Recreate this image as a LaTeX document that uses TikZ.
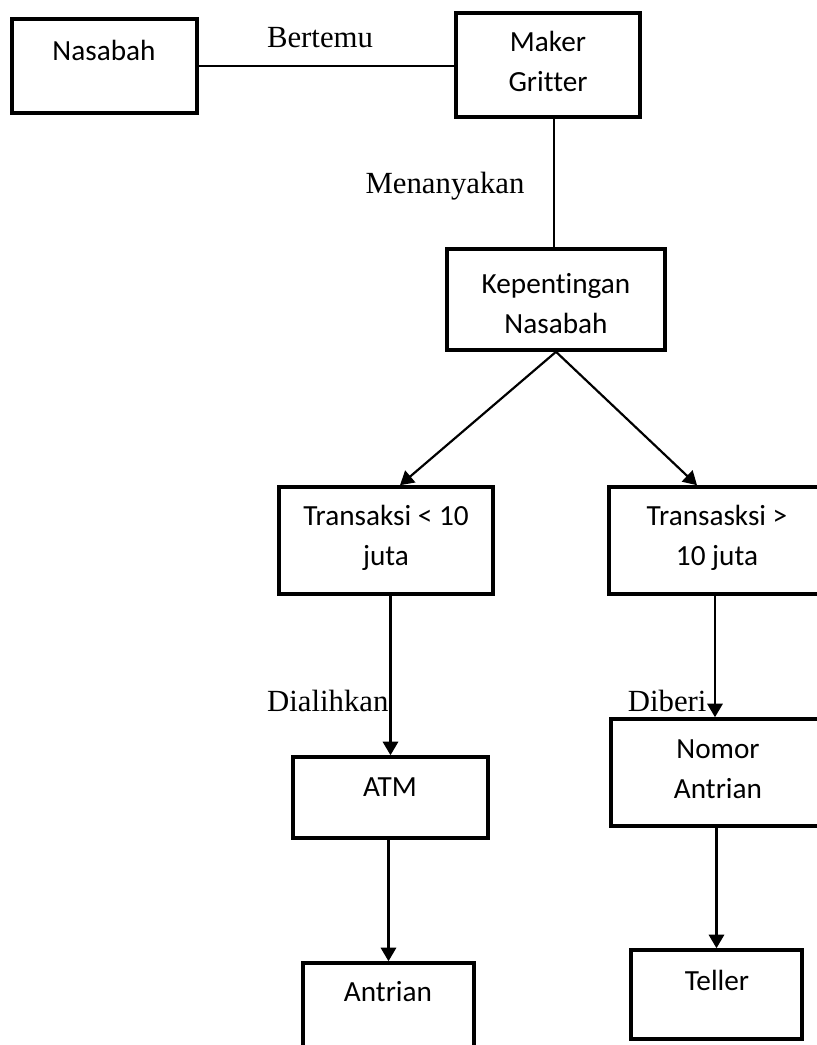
\documentclass[tikz,border=0pt]{standalone}
\usepackage{fontspec}
\setmainfont{Liberation Serif}
\newfontfamily\boxfont[Ligatures=NoCommon,RawFeature={-liga;-clig;-calt}]{Carlito}
\usetikzlibrary{arrows.meta,fit,calc}
\begin{document}
\begin{tikzpicture}[x=0.39pt,y=-0.39pt,
  box/.style={draw, line width=1.4pt, inner sep=0pt, line join=miter},
  txt/.style={font=\boxfont\fontsize{11.4}{15.6}\selectfont, align=center, anchor=north, inner sep=0pt},
  lab/.style={font=\fontsize{12}{14}\selectfont, inner sep=0pt},
  thinline/.style={line width=0.55pt},
  arr/.style={line width=0.85pt, -{Triangle[length=5.3pt,width=6pt]}}]
\useasboundingbox (0,0) rectangle (817,1045);
\clip (0,0) rectangle (817,1045);
% boxes
\node[box, fit={(12,19) (197,113)}] (nas) {};
\node[txt] (nasT) at (104,32) {\strut Nasabah};
\node[box, fit={(456,13) (640,117)}] (maker) {};
\node[txt] (makerT) at (548,23) {\strut Maker\\\strut Gritter};
\node[box, fit={(447,249) (665,350)}] (kep) {};
\node[txt] (kepT) at (556,265) {\strut Kepentingan\\\strut Nasabah};
\node[box, fit={(279,487) (493,594)}] (t1) {};
\node[txt] (t1T) at (386,497) {\strut Transaksi < 10\\\strut juta};
\node[box, fit={(609,487) (825,594)}] (t2) {};
\node[txt] (t2T) at (717,497) {\strut Transasksi >\\\strut 10 juta};
\node[box, fit={(611,719) (825,826)}] (nomor) {};
\node[txt] (nomorT) at (718,730) {\strut Nomor\\\strut Antrian};
\node[box, fit={(293,757) (488,838)}] (atm) {};
\node[txt] (atmT) at (390,768) {\strut ATM};
\node[box, fit={(303,963) (474,1080)}] (antrian) {};
\node[txt] (antrianT) at (388,973) {\strut Antrian};
\node[box, fit={(631,950) (802,1039)}] (teller) {};
\node[txt] (tellerT) at (717,962) {\strut Teller};
% connectors
\draw[thinline] (nas.east) -- (nas.east -| maker.west);
\draw[thinline] ($(maker.south)+(6,0)$) -- ($(kep.north)+(-2,0)$);
\draw[arr] (kep.south) -- ($(t1.north)+(14,0)$);
\draw[arr] (kep.south) -- ($(t2.north)+(-20,0)$);
\draw[arr] (atm.north |- t1.south) -- (atm.north);
\draw[arr] ($(t2.south)+(-2,0)$) coordinate (t2s) -- (t2s |- nomor.north);
\draw[arr] (antrian.north |- atm.south) -- (antrian.north);
\draw[arr] (teller.north |- nomor.south) -- (teller.north);
% labels
\node[lab, anchor=base] (bertemu) at (320,47) {Bertemu};
\node[lab, anchor=base east] (menanyakan) at (525,193) {Menanyakan};
\node[lab, anchor=base east] (dialihkan) at (389,711) {Dialihkan};
\node[lab, anchor=base east] (diberi) at (707,711) {Diberi};
\end{tikzpicture}
\end{document}
